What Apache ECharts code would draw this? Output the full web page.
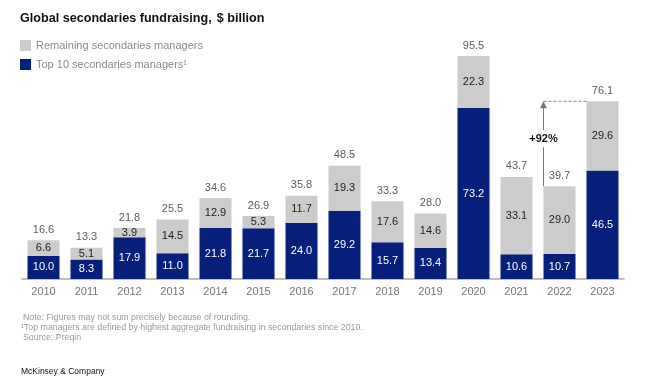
<!DOCTYPE html>
<html>
<head>
<meta charset="utf-8">
<script src="https://cdn.jsdelivr.net/npm/echarts@6/dist/echarts.min.js"></script>
<style>html,body{margin:0;padding:0;background:#fff}#c{width:650px;height:386px}</style>
</head>
<body>
<div id="c"></div>
<script>
const years = ['2010','2011','2012','2013','2014','2015','2016','2017','2018','2019','2020','2021','2022','2023'];
const top10 = [10.0, 8.3, 17.9, 11.0, 21.8, 21.7, 24.0, 29.2, 15.7, 13.4, 73.2, 10.6, 10.7, 46.5];
const remaining = [6.6, 5.1, 3.9, 14.5, 12.9, 5.3, 11.7, 19.3, 17.6, 14.6, 22.3, 33.1, 29.0, 29.6];
const totals = [16.6, 13.3, 21.8, 25.5, 34.6, 26.9, 35.8, 48.5, 33.3, 28.0, 95.5, 43.7, 39.7, 76.1];
const growthFrom = 12, growthTo = 13, growthLabel = '+92%';

const NAVY = '#061f7a', GREY = '#cccccc';
const FONT = '"Liberation Sans", Arial, sans-serif';
const BAR_W = 32;

const chart = echarts.init(document.getElementById('c'), null, {renderer: 'canvas'});
chart.setOption({
  animation: false,
  textStyle: {fontFamily: FONT},
  title: {
    left: 20, top: 10, padding: 0,
    text: '{b|Global secondaries fundraising,} {n|$ billion}',
    textStyle: {rich: {
      b: {fontFamily: FONT, fontSize: 12.6, fontWeight: 'bold', color: '#111'},
      n: {fontFamily: FONT, fontSize: 12.6, color: '#111'}
    }}
  },
  legend: {
    orient: 'vertical', left: 20, top: 40, padding: 0, itemWidth: 11, itemHeight: 11, itemGap: 8,
    data: ['Remaining secondaries managers', 'Top 10 secondaries managers¹'],
    textStyle: {fontFamily: FONT, fontSize: 11, color: '#8a8a8a'},
    icon: 'rect', selectedMode: false
  },
  grid: {left: 22, width: 602, top: 45.5, bottom: 107, containLabel: false},
  xAxis: {
    type: 'category', data: years,
    axisTick: {show: false},
    axisLine: {lineStyle: {color: '#a8a8a8', width: 1.5}},
    axisLabel: {color: '#777', fontSize: 11, fontFamily: FONT, margin: 7}
  },
  yAxis: {type: 'value', min: 0, max: 100, show: false, splitLine: {show: false}},
  series: [
    {
      name: 'Top 10 secondaries managers¹', type: 'bar', stack: 's', barWidth: BAR_W,
      data: top10, itemStyle: {color: NAVY},
      label: {show: true, position: 'inside', color: '#fff', fontSize: 11, fontFamily: FONT,
        formatter: p => p.value.toFixed(1)}
    },
    {
      name: 'Remaining secondaries managers', type: 'bar', stack: 's', barWidth: BAR_W,
      data: remaining, itemStyle: {color: GREY},
      label: {show: true, position: 'inside', color: '#222', fontSize: 11, fontFamily: FONT,
        formatter: p => p.value.toFixed(1)}
    },
    {
      name: 'total', type: 'scatter', data: totals, symbol: 'circle', symbolSize: 2,
      silent: true, itemStyle: {color: 'rgba(255,255,255,0)'}, z: 5,
      label: {show: true, position: 'top', distance: 4, color: '#333', fontSize: 11, fontFamily: FONT,
        formatter: p => p.value.toFixed(1)}
    }
  ]
});

function drawAnnotation() {
  const pFrom = chart.convertToPixel({seriesIndex: 0}, [growthFrom, totals[growthFrom]]);
  const pTo = chart.convertToPixel({seriesIndex: 0}, [growthTo, totals[growthTo]]);
  const x0 = pFrom[0] - BAR_W / 2;
  const x1 = pTo[0] - BAR_W / 2;
  const yTop = pTo[1];
  const yBot = pFrom[1];
  const midY = yTop + (yBot - yTop) * 0.44;
  chart.setOption({
    graphic: [
      {type: 'line', shape: {x1: x0, y1: yBot, x2: x0, y2: yTop + 4}, style: {stroke: '#777', lineWidth: 1}, z: 10},
      {type: 'polygon', shape: {points: [[x0, yTop], [x0 - 3.5, yTop + 7], [x0 + 3.5, yTop + 7]]}, style: {fill: '#777'}, z: 10},
      {type: 'line', shape: {x1: x0, y1: yTop, x2: x1, y2: yTop}, style: {stroke: '#888', lineWidth: 1, lineDash: [3, 2]}, z: 10},
      {type: 'text', x: x0, y: midY, z: 11,
        style: {text: growthLabel, fill: '#111', font: 'bold 11px ' + FONT, align: 'center', verticalAlign: 'middle',
          backgroundColor: '#fff', padding: [3, 1]}},
      {type: 'text', left: 23, top: 313, style: {text: 'Note: Figures may not sum precisely because of rounding.', fill: '#999', font: '8.8px ' + FONT}},
      {type: 'text', left: 21, top: 323, style: {text: '¹Top managers are defined by highest aggregate fundraising in secondaries since 2010.', fill: '#999', font: '8.8px ' + FONT}},
      {type: 'text', left: 23, top: 333, style: {text: 'Source: Preqin', fill: '#999', font: '8.8px ' + FONT}},
      {type: 'text', left: 21, top: 367, style: {text: 'McKinsey & Company', fill: '#111', font: '8.5px ' + FONT}}
    ]
  });
}
drawAnnotation();
</script>
</body>
</html>
